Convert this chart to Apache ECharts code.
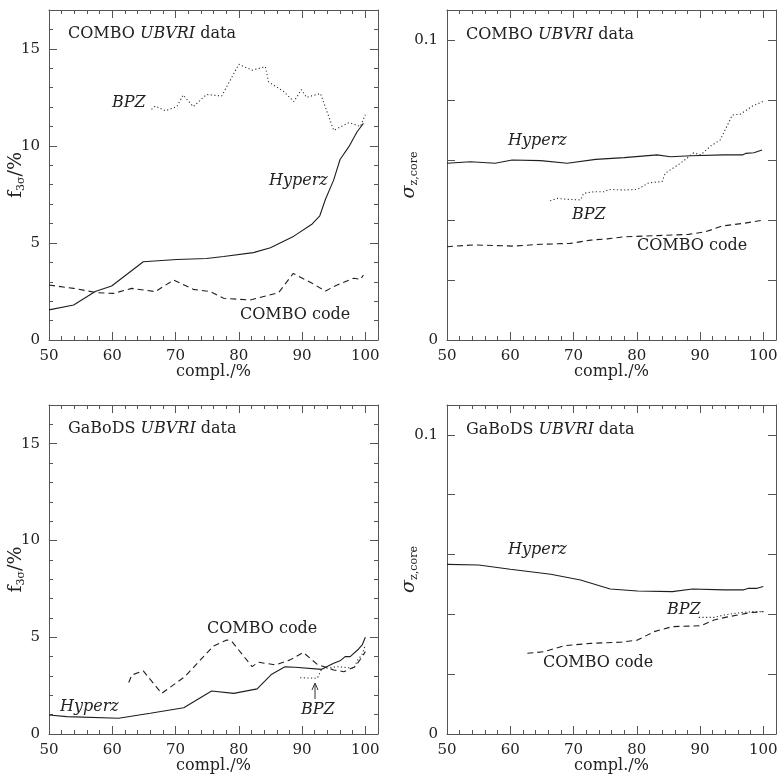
<!DOCTYPE html>
<html>
<head>
<meta charset="utf-8">
<script src="https://cdn.jsdelivr.net/npm/echarts@6/dist/echarts.min.js"></script>
<style>
html,body{margin:0;padding:0;background:#fff;}
#chart{width:780px;height:775px;}
</style>
</head>
<body>
<div id="chart"></div>
<script>
// ---- tick labels ----
const xTicks = [50, 60, 70, 80, 90, 100];
const fTicks = [0, 5, 10, 15];
const sTicks = [0, 0.1];

// ---- Panel 1: COMBO UBVRI data, f_3sigma ----
const p1Hyperz = [[50,1.55],[53.9,1.8],[57.3,2.5],[59.9,2.78],[64.9,4.03],[70.2,4.15],[74.9,4.2],[77.6,4.3],[82.3,4.5],[85,4.75],[88.7,5.35],[91.6,5.98],[92.8,6.4],[93.7,7.25],[95,8.25],[96,9.3],[97.4,9.96],[98.7,10.73],[99.7,11.16]];
const p1BPZ = [[66.2,11.88],[66.8,12.05],[68.4,11.81],[70.2,12.02],[71.2,12.62],[72.8,12.02],[74.9,12.65],[77.3,12.57],[80,14.2],[82.1,13.9],[84.2,14.08],[84.7,13.3],[87.1,12.8],[88.7,12.28],[89.9,12.9],[90.7,12.5],[92.9,12.7],[95,10.8],[97.4,11.2],[99.2,11.0],[100,11.6]];
const p1Combo = [[50,2.83],[53.9,2.66],[57.5,2.44],[60.2,2.4],[63.1,2.66],[66.8,2.49],[69.7,3.09],[72.8,2.61],[75.5,2.49],[77.6,2.15],[81.8,2.06],[86.3,2.44],[88.6,3.43],[91.6,2.92],[93.7,2.52],[95.3,2.8],[98.2,3.18],[99.2,3.12],[99.7,3.35]];

// ---- Panel 2: COMBO UBVRI data, sigma_z,core ----
const p2Hyperz = [[50,0.0589],[53.7,0.0594],[57.6,0.0589],[60.3,0.06],[64.8,0.0598],[69,0.0589],[73.5,0.0602],[78,0.0608],[83.2,0.0617],[85.3,0.0611],[88.5,0.0614],[93.8,0.0617],[96.7,0.0617],[97.2,0.0622],[98.5,0.0624],[99.8,0.0633]];
const p2BPZ = [[66.3,0.0464],[67.4,0.0472],[69,0.0469],[71.1,0.0467],[71.6,0.0489],[73.2,0.0494],[74.8,0.0494],[75.6,0.0502],[78,0.05],[80.1,0.0502],[81.9,0.0524],[84,0.0528],[84.5,0.0556],[86.9,0.0589],[89,0.0624],[90.1,0.0617],[91.7,0.0647],[93.2,0.0667],[95.1,0.075],[96.4,0.0753],[98.3,0.078],[99.8,0.0794],[100,0.0794]];
const p2Combo = [[50,0.0311],[54.2,0.0317],[60.5,0.0313],[64.8,0.0319],[69.5,0.0322],[72.7,0.0333],[75.3,0.0337],[78,0.0344],[83.2,0.0348],[88.2,0.0352],[90.9,0.0361],[93.5,0.038],[96.9,0.0389],[100,0.04]];

// ---- Panel 3: GaBoDS UBVRI data, f_3sigma ----
const p3Hyperz = [[50,0.98],[52.8,0.9],[61,0.81],[66,1.07],[71.3,1.36],[75.7,2.22],[79.2,2.1],[82.9,2.33],[85.2,3.09],[87.3,3.47],[88.9,3.45],[93.1,3.34],[95,3.66],[96,3.78],[96.3,3.7],[96.8,4.0],[97.6,4.0],[98.9,4.38],[99.5,4.6],[100,5.0]];
const p3Combo = [[62.6,2.66],[63.1,3.05],[64.9,3.26],[67.8,2.1],[71.5,2.97],[76,4.55],[78.1,4.86],[78.9,4.78],[82.1,3.48],[83.1,3.71],[85.8,3.57],[88.1,3.83],[90.2,4.21],[92.4,3.6],[95,3.31],[96.6,3.22],[98.4,3.48],[99.5,4.0],[100,4.26]];
const p3BPZ = [[89.7,2.91],[92.4,2.88],[93.1,3.36],[95.5,3.48],[97.1,3.43],[98.2,3.4],[98.7,3.78],[99.5,4.12],[100,4.6]];

// ---- Panel 4: GaBoDS UBVRI data, sigma_z,core ----
const p4Hyperz = [[50,0.0567],[55,0.0565],[60,0.0551],[66.4,0.0534],[71.1,0.0515],[75.8,0.0485],[80.1,0.0478],[85.6,0.0476],[88.8,0.0485],[93.8,0.0482],[96.9,0.0482],[97.7,0.0487],[99,0.0487],[100,0.0493]];
const p4Combo = [[62.7,0.027],[65.3,0.0275],[68.5,0.0295],[72.7,0.0303],[77.4,0.0307],[80.1,0.0314],[82.7,0.0342],[85.6,0.0359],[90.1,0.0362],[92.2,0.0381],[93.8,0.0389],[96.4,0.04],[98,0.0406],[100,0.0409]];
const p4BPZ = [[89.8,0.039],[92.2,0.039],[93.8,0.0398],[96.4,0.0406],[98.3,0.0409],[100,0.0409]];

const FONT = '"DejaVu Serif", serif';
const AX = '#555';
const INK = '#1e1e1e';

const grids = [
  {left: 49, top: 10, width: 329, height: 330},
  {left: 447, top: 10, width: 329, height: 330},
  {left: 49, top: 405, width: 329, height: 329},
  {left: 447, top: 405, width: 329, height: 329}
].map(g => Object.assign({show: false, containLabel: false, outerBoundsMode: 'none'}, g));

function xAxis(gi, pos) {
  const bottom = pos === 'bottom';
  return {
    type: 'value', gridIndex: gi, position: pos, min: 50, max: 102, interval: 10,
    axisLine: {show: true, onZero: false, lineStyle: {color: AX, width: 1}},
    axisTick: {show: true, inside: true, length: 8, lineStyle: {color: AX}},
    minorTick: {show: true, splitNumber: 5, length: 4, lineStyle: {color: AX}},
    splitLine: {show: false},
    axisLabel: {show: bottom, margin: 9, color: '#222', fontFamily: FONT, fontSize: 15,
      showMaxLabel: false,
      formatter: v => xTicks.includes(v) ? String(v) : ''},
    name: bottom ? 'compl./%' : '', nameLocation: 'middle', nameGap: 24,
    nameMoveOverlap: false,
    nameTextStyle: {color: '#222', fontFamily: FONT, fontSize: 16}
  };
}

function yAxis(gi, pos, kind) {
  const left = pos === 'left';
  const isF = kind === 'f';
  const ax = {
    type: 'value', gridIndex: gi, position: pos, min: 0,
    max: isF ? 17 : 0.11, interval: isF ? 5 : 0.02,
    axisLine: {show: true, onZero: false, lineStyle: {color: AX, width: 1}},
    axisTick: {show: true, inside: true, length: 8, lineStyle: {color: AX}},
    minorTick: {show: isF, splitNumber: 5, length: 4, lineStyle: {color: AX}},
    splitLine: {show: false},
    axisLabel: {show: left, margin: 9, color: '#222', fontFamily: FONT, fontSize: 15,
      showMaxLabel: false,
      formatter: isF
        ? (v => fTicks.includes(v) ? String(v) : '')
        : (v => { for (const t of sTicks) { if (Math.abs(v - t) < 1e-9) return String(t); } return ''; })}
  };
  if (left) {
    ax.nameLocation = 'middle';
    ax.nameRotate = 90;
    ax.nameMoveOverlap = false;
    if (isF) {
      ax.name = '{m|f}{s|3σ}{m|/%}';
      ax.nameGap = 22;
    } else {
      ax.name = '{g|σ}{s|z,core}';
      ax.nameGap = 27;
    }
    ax.nameTextStyle = {
      color: '#222', fontFamily: FONT, fontSize: 18,
      rich: {
        m: {fontFamily: FONT, fontSize: 19, color: '#222', lineHeight: 22},
        g: {fontFamily: FONT, fontSize: 19, fontStyle: 'italic', color: '#222', lineHeight: 22},
        s: {fontFamily: FONT, fontSize: 11, color: '#222', lineHeight: 11, verticalAlign: 'bottom'}
      }
    };
  }
  return ax;
}

const xAxes = [0,1,2,3].map(i => xAxis(i, 'bottom')).concat([0,1,2,3].map(i => xAxis(i, 'top')));
const yKinds = ['f','s','f','s'];
const yAxes = [0,1,2,3].map(i => yAxis(i, 'left', yKinds[i])).concat([0,1,2,3].map(i => yAxis(i, 'right', yKinds[i])));

const styles = {
  solid: {type: 'solid', width: 1.1, color: INK},
  dashed: {type: [6, 4], width: 1.1, color: INK},
  dotted: {type: [1.2, 2.4], width: 1.1, color: '#333'}
};

function line(data, gi, st) {
  return {type: 'line', data: data, xAxisIndex: gi, yAxisIndex: gi, showSymbol: false,
    symbol: 'none', lineStyle: styles[st], silent: true, animation: false, z: 3};
}

const series = [
  line(p1Hyperz, 0, 'solid'), line(p1BPZ, 0, 'dotted'), line(p1Combo, 0, 'dashed'),
  line(p2Hyperz, 1, 'solid'), line(p2BPZ, 1, 'dotted'), line(p2Combo, 1, 'dashed'),
  line(p3Hyperz, 2, 'solid'), line(p3Combo, 2, 'dashed'), line(p3BPZ, 2, 'dotted'),
  line(p4Hyperz, 3, 'solid'), line(p4Combo, 3, 'dashed'), line(p4BPZ, 3, 'dotted')
];

const rich = {
  n: {fontFamily: FONT, fontSize: 16, fill: '#222', color: '#222'},
  i: {fontFamily: FONT, fontSize: 16, fontStyle: 'italic', fill: '#222', color: '#222'}
};
function txt(x, y, text, italic) {
  return {type: 'text', x: x, y: y, z: 10, silent: true,
    style: {text: text, fill: '#222', font: (italic ? 'italic ' : '') + '16px ' + FONT,
      align: 'left', verticalAlign: 'middle'}};
}
function title(x, y, name) {
  return {type: 'text', x: x, y: y, z: 10, silent: true,
    style: {text: '{n|' + name + ' }{i|UBVRI}{n| data}', rich: rich, fill: '#222',
      font: '16px ' + FONT, align: 'left', verticalAlign: 'middle'}};
}

const graphic = [
  title(68, 34, 'COMBO'),
  txt(112, 103, 'BPZ', true),
  txt(269, 181, 'Hyperz', true),
  txt(240, 315, 'COMBO code', false),

  title(466, 35, 'COMBO'),
  txt(508, 141, 'Hyperz', true),
  txt(572, 215, 'BPZ', true),
  txt(637, 246, 'COMBO code', false),

  title(68, 429, 'GaBoDS'),
  txt(207, 629, 'COMBO code', false),
  txt(60, 707, 'Hyperz', true),
  txt(301, 710, 'BPZ', true),
  {type: 'line', silent: true, z: 10, shape: {x1: 315, y1: 699, x2: 315, y2: 684}, style: {stroke: '#333', lineWidth: 1}},
  {type: 'polyline', silent: true, z: 10, shape: {points: [[312, 690], [315, 683], [318, 690]]}, style: {stroke: '#333', lineWidth: 1, fill: 'none'}},

  title(466, 430, 'GaBoDS'),
  txt(508, 550, 'Hyperz', true),
  txt(667, 610, 'BPZ', true),
  txt(543, 663, 'COMBO code', false)
];

const chart = echarts.init(document.getElementById('chart'), null, {renderer: 'canvas'});
chart.setOption({
  animation: false,
  backgroundColor: '#fff',
  grid: grids,
  xAxis: xAxes,
  yAxis: yAxes,
  series: series,
  graphic: graphic
});
</script>
</body>
</html>
